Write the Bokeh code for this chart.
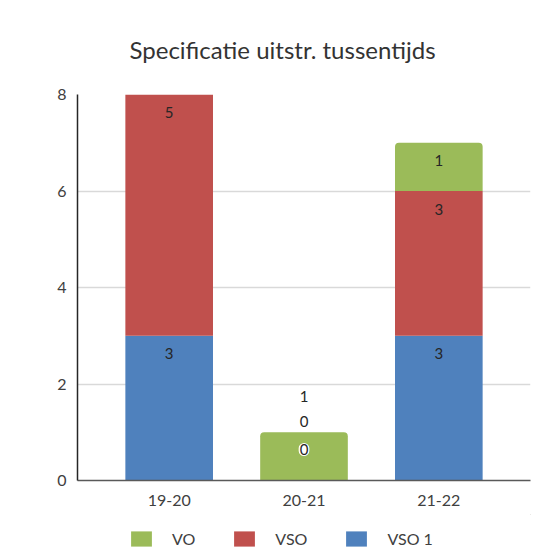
from bokeh.plotting import figure
from bokeh.layouts import column
from bokeh.models import ColumnDataSource, Legend, LegendItem, FactorRange, Range1d
from bokeh.embed import file_html
from bokeh.resources import INLINE
from bokeh.core.properties import value

# ---- data ----
years = ["19-20", "20-21", "21-22"]
vso1 = [3, 0, 3]
vso = [5, 0, 3]
vo = [0, 1, 1]
series_names = ["VSO 1", "VSO", "VO"]
series_colors = ["#4F81BD", "#C0504D", "#9BBB59"]
legend_order = ["VO", "VSO", "VSO 1"]
title_text = "Specificatie uitstr. tussentijds"

FONT = "Lato"
W = 545

p = figure(
    x_range=FactorRange(*years, range_padding=0.12),
    y_range=(0, 8),
    width=W, height=514,
    output_backend="svg", toolbar_location=None,
    min_border_left=77, min_border_right=15, min_border_top=94, min_border_bottom=34,
    outline_line_color=None,
)
p.title.text = title_text
p.title.text_font = FONT
p.title.text_font_size = "24px"
p.title.text_font_style = "normal"
p.title.text_color = "#333333"
p.title.align = "left"
p.title.offset = 52
p.title.standoff = 61

series = [vso1, vso, vo]
bottoms = [0, 0, 0]
label_rows = []
overrides = {("20-21", "VSO 1"): -31, ("20-21", "VSO"): -59, ("20-21", "VO"): -36}
for name, vals, col in zip(series_names, series, series_colors):
    tops = [b + v for b, v in zip(bottoms, vals)]
    src = ColumnDataSource(dict(x=years, bottom=bottoms, top=tops))
    kw = {}
    if name == "VO":
        kw["border_radius"] = (4, 4, 0, 0)
    p.vbar(x="x", bottom="bottom", top="top", width=0.65, source=src,
           fill_color=col, line_color=None, **kw)
    for yr, t, v in zip(years, tops, vals):
        if v == 0 and (yr, name) not in overrides:
            continue
        off = overrides.get((yr, name), 18)
        label_rows.append((yr, t, str(v), off, (yr, name) == ("20-21", "VSO 1")))
    bottoms = tops

plain = [r for r in label_rows if not r[4]]
halo = [r for r in label_rows if r[4]]
for rows, bg in ((plain, None), (halo, "white")):
    src = ColumnDataSource(dict(x=[r[0] for r in rows], y=[r[1] for r in rows],
                                text=[r[2] for r in rows], off=[r[3] for r in rows]))
    kw = {}
    if bg:
        kw = dict(background_fill_color=bg, border_radius=7, padding=1)
    p.text(x="x", y="y", text="text", y_offset="off", source=src,
           text_align="center", text_baseline="middle",
           text_font=value(FONT), text_font_size="15px", text_color="#262626", **kw)

# axes
p.yaxis.ticker = [0, 2, 4, 6, 8]
p.yaxis.major_tick_line_color = None
p.yaxis.major_tick_out = 0
p.yaxis.minor_tick_line_color = None
p.yaxis.axis_line_color = "#262626"
p.yaxis.axis_line_width = 1.5
p.yaxis.major_label_text_font = FONT
p.yaxis.major_label_text_font_size = "16px"
p.yaxis.major_label_text_color = "#404040"
p.yaxis.major_label_standoff = 11

p.xaxis.major_tick_line_color = None
p.xaxis.axis_line_color = "#595959"
p.xaxis.axis_line_width = 1.5
p.xaxis.major_label_text_font = FONT
p.xaxis.major_label_text_font_size = "16px"
p.xaxis.major_label_text_color = "#404040"
p.xaxis.major_label_standoff = 8

p.xgrid.grid_line_color = None
p.ygrid.grid_line_color = "#d9d9d9"
p.ygrid.grid_line_width = 1.5

# ---- legend strip below the chart ----
pl = figure(width=W, height=40, output_backend="svg", toolbar_location=None,
            x_axis_type=None, y_axis_type=None, outline_line_color=None,
            x_range=Range1d(0, 1), y_range=Range1d(0, 1),
            min_border_left=0, min_border_right=0, min_border_top=0, min_border_bottom=0)
pl.grid.visible = False
cmap = dict(zip(series_names, series_colors))
items = []
for n in legend_order:
    # placeholder bar far outside the visible range: only its legend swatch shows
    r = pl.vbar(x=[10], bottom=[10], top=[11], width=0.1, fill_color=cmap[n], line_color=None)
    items.append(LegendItem(label=n, renderers=[r]))
legend = Legend(
    items=items, orientation="horizontal", location=(51, 6),
    glyph_width=26, glyph_height=19, label_standoff=18, spacing=36,
    label_text_font=FONT, label_text_font_size="16px", label_text_color="#404040",
    border_line_color=None, background_fill_alpha=0, margin=0, padding=0,
)
pl.add_layout(legend, "center")

layout = column(p, pl, spacing=0)
open("out.html", "w").write(file_html(layout, INLINE))
